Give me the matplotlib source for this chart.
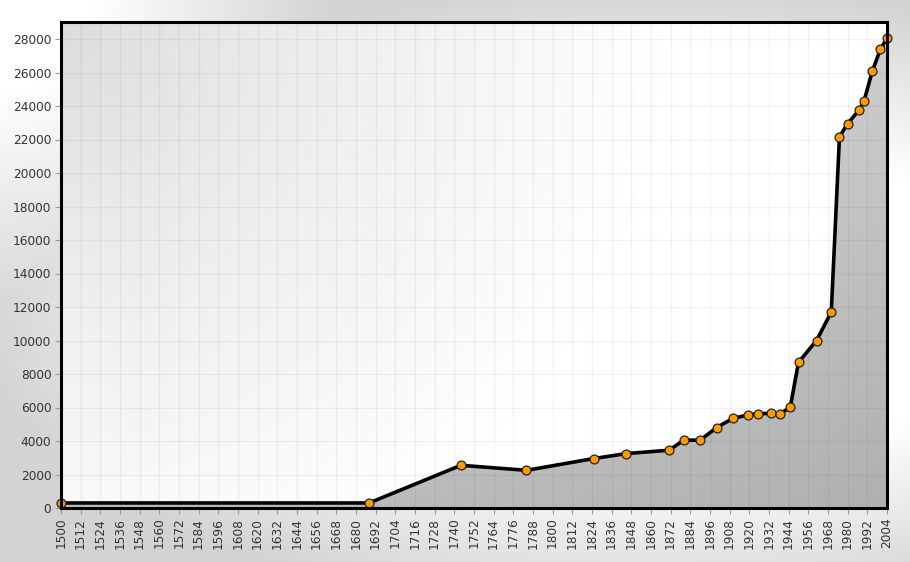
import numpy as np
import matplotlib
matplotlib.use('Agg')
import matplotlib.pyplot as plt

years = [1500, 1688, 1744, 1784, 1825, 1845, 1871, 1880, 1890, 1900, 1910, 1919,
         1925, 1933, 1939, 1945, 1950, 1961, 1970, 1975, 1980, 1987, 1990, 1995,
         2000, 2004]
population = [300, 300, 2550, 2250, 2950, 3250, 3450, 4050, 4050, 4800, 5350, 5550,
              5630, 5650, 5630, 6030, 8700, 10000, 11700, 22170, 22950, 23760, 24300,
              26070, 27390, 28040]
x_ticks = list(range(1500, 2005, 12))
y_ticks = list(range(0, 28001, 2000))

W, H = 910, 562
fig = plt.figure(figsize=(W / 100, H / 100), dpi=100)

# figure background gradient
bg_ax = fig.add_axes([0, 0, 1, 1], zorder=-10)
yy, xx = np.mgrid[0:H, 0:W].astype(float)
r2 = np.sqrt(((xx - 650) / 650) ** 2 + ((yy - 300) / 300) ** 2)
r1 = np.sqrt(xx ** 2 + yy ** 2) / 300
t = np.minimum(np.clip((r2 - 0.55) / 0.5, 0, 1), np.clip((r1 - 0.3) / 0.8, 0, 1))
g = 1.0 - 0.17 * t
bg_ax.imshow(np.dstack([g, g, g]), extent=[0, 1, 0, 1], aspect='auto', interpolation='bilinear')
bg_ax.set_axis_off()

left, right, top, bottom = 61, 887, 22, 508
ax = fig.add_axes([left / W, 1 - bottom / H, (right - left) / W, (bottom - top) / H])
ymax = (bottom - top) / 16.75 * 1000
ax.set_xlim(1500, 2004)
ax.set_ylim(0, ymax)

# plot background gradient
ph, pw = bottom - top, right - left
py, px = np.mgrid[0:ph, 0:pw].astype(float)
dd = np.sqrt(px ** 2 + py ** 2)
pg = 0.86 + 0.14 * np.clip(dd / 600.0, 0, 1) ** 0.8
ax.imshow(np.dstack([pg, pg, pg]), extent=[1500, 2004, 0, ymax], aspect='auto',
          interpolation='bilinear', zorder=0)

# area fill with gradient
poly = ax.fill_between(years, population, 0, color='none', zorder=1)
fy = np.linspace(1, 0, 200)[:, None] * np.ones((1, 80))
fx = np.linspace(0, 1, 80)[None, :]
fg = 0.74 + 0.12 * fy - 0.05 * fx ** 2
img = ax.imshow(np.dstack([fg, fg, fg]), extent=[1500, 2004, 0, ymax], aspect='auto',
                interpolation='bilinear', zorder=1)
img.set_clip_path(poly.get_paths()[0], transform=ax.transData)

# grid
for xt in x_ticks:
    ax.axvline(xt, color='black', alpha=0.05, lw=0.9, zorder=2)
for yt in y_ticks:
    ax.axhline(yt, color='black', alpha=0.05, lw=0.9, zorder=2)

ax.plot(years, population, color='black', lw=2.6, zorder=3, clip_on=False,
        solid_joinstyle='round')
ax.plot(years, population, linestyle='none', marker='o', markersize=6.4,
        markerfacecolor='#ff9a00', markeredgecolor='#222222', markeredgewidth=0.9,
        zorder=4, clip_on=False)

ax.set_xticks(x_ticks)
ax.set_xticklabels([str(v) for v in x_ticks], rotation=90)
ax.set_yticks(y_ticks)
ax.set_yticklabels([str(v) for v in y_ticks])
ax.tick_params(axis='both', direction='out', length=4, width=0.8, color='#999999',
               labelcolor='#333333', labelsize=8.7, pad=3)

for s in ax.spines.values():
    s.set_linewidth(2.2)
    s.set_color('black')
    s.set_zorder(5)

fig.savefig('out.png', dpi=100)
